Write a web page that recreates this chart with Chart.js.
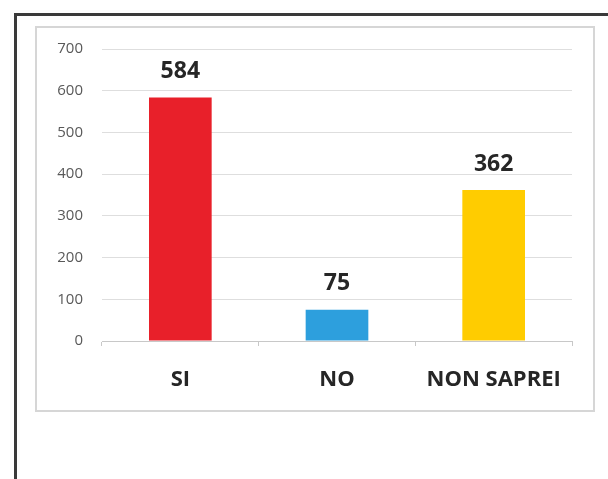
<!DOCTYPE html>
<html>
<head>
<meta charset="utf-8">
<script src="https://cdn.jsdelivr.net/npm/chart.js@4"></script>
<style>
  html, body { margin: 0; padding: 0; background: #fff; width: 608px; height: 479px; overflow: hidden; }
  #frame { position: absolute; left: 14px; top: 13px; width: 620px; height: 500px; border-left: 3px solid #3a3a3a; border-top: 3px solid #3a3a3a; }
  #box { position: absolute; left: 35px; top: 26px; width: 560px; height: 386px; box-sizing: border-box; border: 2px solid #d6d6d6; }
  #wrap { position: absolute; left: 37px; top: 28px; width: 556px; height: 382px; }
</style>
</head>
<body>
<div id="frame"></div>
<div id="box"></div>
<div id="wrap"><canvas id="myChart"></canvas></div>
<script>
const categorie = ['SI', 'NO', 'NON SAPREI'];
const risposte = [584, 75, 362];
const colori = ['#e8202a', '#2d9fdd', '#ffcc00'];
const yTicks = [0, 100, 200, 300, 400, 500, 600, 700];

// etichette sopra le barre
const etichette = {
    id: 'etichette',
    afterDatasetsDraw(chart) {
        const ctx = chart.ctx;
        ctx.save();
        ctx.font = 'bold 23px "Open Sans"';
        ctx.fillStyle = '#262626';
        ctx.textAlign = 'center';
        ctx.textBaseline = 'middle';
        chart.getDatasetMeta(0).data.forEach((bar, i) => {
            ctx.fillText(chart.data.datasets[0].data[i], bar.x, bar.y - 26);
        });
        ctx.restore();
    }
};

new Chart(document.getElementById('myChart'), {
    type: 'bar',
    data: {
        labels: categorie,
        datasets: [{
            data: risposte,
            backgroundColor: colori,
            barPercentage: 0.4,
            categoryPercentage: 1
        }]
    },
    options: {
        responsive: true,
        maintainAspectRatio: false,
        animation: false,
        layout: { padding: { left: 0, right: 21, top: 21, bottom: 0 } },
        plugins: { legend: { display: false }, tooltip: { enabled: false } },
        scales: {
            x: {
                afterFit: (s) => { s.height = 69; },
                grid: { drawOnChartArea: false, drawTicks: true, tickLength: 5, color: '#c8c8c8' },
                border: { color: '#c8c8c8' },
                ticks: { padding: 21, color: '#262626', font: { family: 'Open Sans', size: 22, weight: 'bold' } }
            },
            y: {
                min: 0,
                max: 700,
                afterFit: (s) => { s.width = 65; s.paddingTop = 0; s.paddingBottom = 0; },
                afterBuildTicks: (s) => { s.ticks = yTicks.map(v => ({ value: v })); },
                grid: { color: '#dedede', drawTicks: false },
                border: { display: false },
                ticks: { padding: 19, color: '#595959', font: { family: 'Open Sans', size: 15 } }
            }
        }
    },
    plugins: [etichette]
});
</script>
</body>
</html>
